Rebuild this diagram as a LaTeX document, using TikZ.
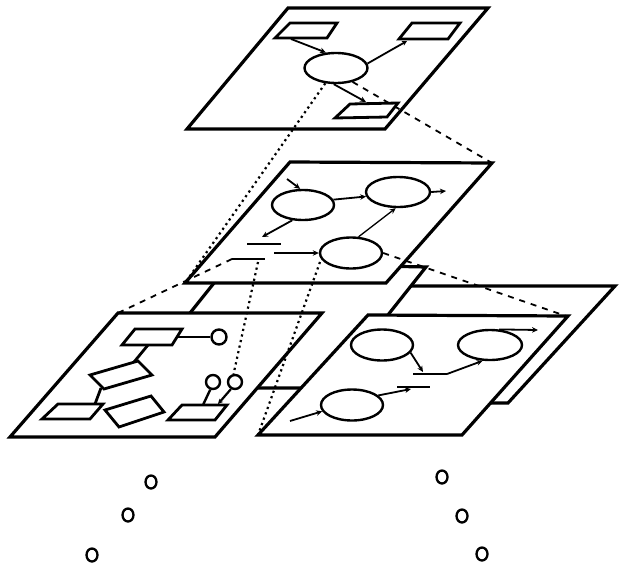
\documentclass[tikz,border=0pt]{standalone}
\usetikzlibrary{arrows.meta,shapes.geometric}
\begin{document}
\begin{tikzpicture}[x=1pt,y=-1pt,
  plane/.style={draw,line width=3.2pt,fill=white},
  box/.style={draw,line width=2.8pt,fill=white},
  oval/.style={draw,ellipse,line width=2.4pt,inner sep=0pt,fill=white},
  arr/.style={line width=1.8pt,-{Stealth[length=6pt,width=5.5pt]}},
  link/.style={line width=1.8pt},
  bar/.style={line width=2.8pt},
  dots/.style={line width=2.2pt,dash pattern=on 2.2pt off 3.5pt},
  dashes/.style={line width=1.8pt,dash pattern=on 6pt off 6pt},
  ring/.style={draw,ellipse,line width=2.3pt,inner sep=0pt,minimum width=11pt,minimum height=13pt}]
\useasboundingbox (0,0) rectangle (623,570);

% ---------- back sheets of the lowest level ----------
\draw[plane] (360,286) -- (615,286) -- (508,403) -- (410,403) -- cycle;
\draw[plane] (230,263) -- (426,267) -- (330,388) -- (200,388) -- (190,313) -- cycle;

% ---------- lowest level planes ----------
\draw[plane] (118,313) -- (322,313) -- (215,437) -- (10,437) -- cycle;
\draw[plane] (368,315) -- (568,316) -- (462,435) -- (258,435) -- cycle;

% ---------- middle plane ----------
\draw[plane] (290,162) -- (492,163) -- (386,283) -- (185,283) -- cycle;
\coordinate (mTR) at (492,163);
\coordinate (mBL) at (185,283);

% ---------- top plane ----------
\draw[plane] (288,8) -- (488,8) -- (385,129) -- (187,129) -- cycle;

% ---------- top plane content ----------
\node[oval,minimum width=63pt,minimum height=30pt] (te) at (336,68) {};
\draw[dashes] (te.320) -- (mTR);
\draw[box] (290,23) -- (337,23) -- (327,38) -- (275,38) -- cycle;
\draw[box] (412,23) -- (460,23) -- (448,39) -- (399,39) -- cycle;
\draw[box] (350,104) -- (398,103) -- (387,117) -- (335,118) -- cycle;
\coordinate (tl) at (291,39);
\coordinate (tr) at (407,41);
\coordinate (br) at (366,102);
\draw[arr] (tl) -- (te.123);
\draw[link,-{Stealth[length=5pt,width=5pt]}] (te.8) -- (tr);
\draw[arr] (te.262) -- (br);

% ---------- middle plane content ----------
\node[oval,minimum width=62pt,minimum height=30pt] (m1) at (303,205) {};
\node[oval,minimum width=64pt,minimum height=30pt] (m2) at (398,192) {};
\node[oval,minimum width=62pt,minimum height=31pt] (m3) at (351,253) {};
\coordinate (m1in) at (287,179);
\coordinate (m2out) at (446,191);
\coordinate (b1a) at (247,244); \coordinate (b1b) at (281,244);
\coordinate (b2a) at (232,259); \coordinate (b2b) at (265,259);
\coordinate (b1t) at (262,237);
\coordinate (m3in) at (274,253);
\draw[bar] (b1a) -- (b1b);
\draw[bar] (b2a) -- (b2b);
\draw[arr] (m1in) -- (m1.100);
\draw[arr] (m1.10) -- (m2.188);
\draw[arr] (m2.east) -- (m2out);
\draw[arr,line width=1.3pt] (m3.65) -- (m2.262);
\draw[arr] (m1.235) -- (b1t);
\draw[arr] (m3in) -- (m3.west);

% ---------- lower-left plane content ----------
\draw[box] (135,329) -- (182,329) -- (172,345) -- (122,345) -- cycle;
\draw[box] (90,375) -- (138,361) -- (152,375) -- (104,389) -- cycle;
\draw[box] (58,404) -- (103,404) -- (90,419) -- (42,419) -- cycle;
\draw[box] (105,410) -- (151,396) -- (164,412) -- (119,427) -- cycle;
\draw[box] (182,405) -- (227,405) -- (215,420) -- (168,420) -- cycle;
\node[draw,circle,line width=2.4pt,inner sep=0pt,minimum size=15pt,fill=white] (c1) at (219,337) {};
\node[draw,circle,line width=2.4pt,inner sep=0pt,minimum size=14pt,fill=white] (c2) at (213,382) {};
\node[draw,circle,line width=2.4pt,inner sep=0pt,minimum size=14pt,fill=white] (c3) at (235,382) {};
\coordinate (r1r) at (178,337);
\coordinate (r1b) at (148,345);
\coordinate (r2t) at (134,362);
\coordinate (r2b) at (101,388);
\coordinate (r3t) at (95,404);
\coordinate (r5a) at (203,405);
\coordinate (r5b) at (218,404);
\draw[line width=2.3pt] (r1r) -- (c1.west);
\draw[line width=2.8pt] (r1b) -- (r2t);
\draw[line width=2.8pt] (r2b) -- (r3t);
\draw[line width=2.4pt] (c2.250) -- (r5a);
\draw[line width=2.2pt,-{Stealth[length=5pt,width=5pt]}] (c3.240) -- (r5b);

% ---------- lower-right plane content ----------
\node[oval,minimum width=62pt,minimum height=31pt] (rA) at (382,345) {};
\node[oval,minimum width=64pt,minimum height=30pt] (rB) at (490,345) {};
\node[oval,minimum width=62pt,minimum height=31pt] (rC) at (352,405) {};
\coordinate (rb1a) at (413,374); \coordinate (rb1b) at (447,374);
\coordinate (rb2a) at (397,387); \coordinate (rb2b) at (430,387);
\coordinate (rb1t) at (423,372);
\coordinate (rb2t) at (411,389);
\coordinate (rCin) at (290,421);
\coordinate (rBout) at (538,330);
\draw[bar] (rb1a) -- (rb1b);
\draw[bar] (rb2a) -- (rb2b);
\draw[arr] (rA.345) -- (rb1t);
\draw[arr] (rb1b) -- (rB.245);
\draw[arr] (rC.20) -- (rb2t);
\draw[arr] (rCin) -- (rC.192);
\draw[arr] (rB.60) -- (rBout);

% ---------- links between levels ----------
\coordinate (lTL) at (118,313);
\coordinate (rBL) at (258,435);
\coordinate (rTR) at (566,316);
\coordinate (b2d) at (258,262);
\coordinate (m3d) at (320,262);
\draw[dots] (te.235) -- (mBL);
\draw[dashes] (b2a) -- (lTL);
\draw[dots] (b2d) -- (c3.100);
\draw[dots] (m3d) -- (rBL);
\draw[dashes] (m3.east) -- (rTR);

% ---------- ellipsis marks ----------
\node[ring] (e1) at (151,482) {};
\node[ring] (e2) at (128,515) {};
\node[ring] (e3) at (92,555) {};
\node[ring] (e4) at (442,477) {};
\node[ring] (e5) at (462,516) {};
\node[ring] (e6) at (482,554) {};
\end{tikzpicture}
\end{document}
